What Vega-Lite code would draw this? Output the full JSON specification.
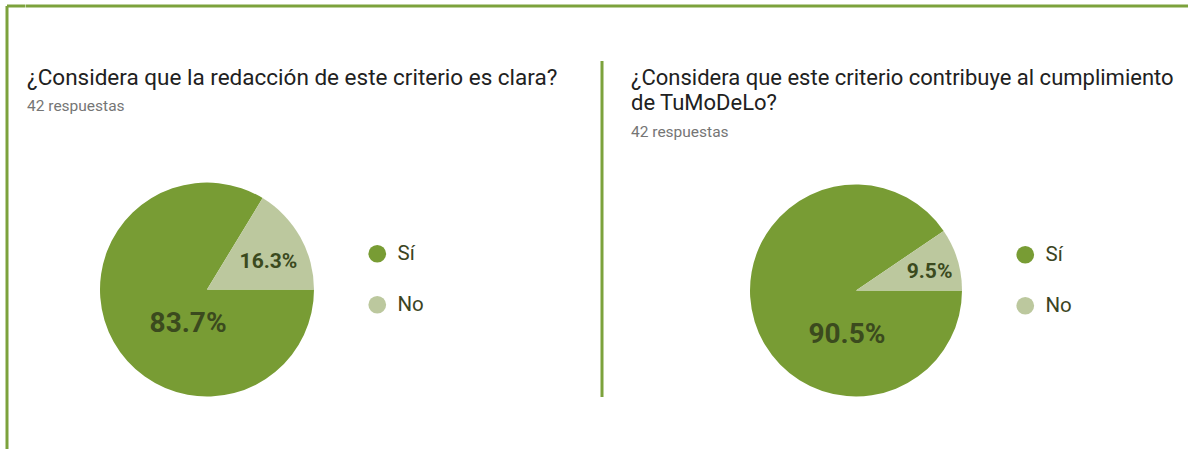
{
  "$schema": "https://vega.github.io/schema/vega-lite/v6.json",
  "padding": {"left": 5, "top": 4, "right": 0, "bottom": 0},
  "background": "white",
  "config": {
    "view": {"stroke": null},
    "font": "Roboto",
    "concat": {"spacing": 0},
    "title": {"font": "Roboto", "subtitleFont": "Roboto"}
  },
  "datasets": {
    "p1": [
      {"respuesta": "Sí", "pct": 0.837, "orden": 1},
      {"respuesta": "No", "pct": 0.163, "orden": 2}
    ],
    "p2": [
      {"respuesta": "Sí", "pct": 0.905, "orden": 1},
      {"respuesta": "No", "pct": 0.095, "orden": 2}
    ]
  },
  "resolve": {"scale": {"color": "independent", "theta": "independent", "radius": "independent"}},
  "spacing": -3,
  "hconcat": [
    {
      "width": 18,
      "height": 444,
      "view": {"stroke": "#7ca23c", "strokeWidth": 3, "strokeDash": [18, 462, 444, 0]},
      "data": {"values": []},
      "mark": "rule",
      "encoding": {}
    },
    {
      "spacing": 52.5,
      "resolve": {"scale": {"color": "independent", "theta": "independent", "radius": "independent"}},
      "vconcat": [
        {
          "width": 1162,
          "height": 0.01,
          "view": {"stroke": "#7ca23c", "strokeWidth": 3},
          "data": {"values": []},
          "mark": "rule",
          "encoding": {}
        },
        {
          "spacing": 42,
          "resolve": {"scale": {"color": "independent", "theta": "independent", "radius": "independent"}},
          "hconcat": [
            {
              "spacing": 3,
              "resolve": {"scale": {"color": "independent", "theta": "independent", "radius": "independent"}},
              "vconcat": [
                {
                  "width": 0.01,
                  "height": 0.01,
                  "data": {"values": []},
                  "mark": "rule",
                  "encoding": {}
                },
                {
                  "title": {
                    "text": "¿Considera que la redacción de este criterio es clara?",
                    "subtitle": "42 respuestas",
                    "anchor": "start",
                    "frame": "group",
                    "offset": 68,
                    "fontSize": 22.5,
                    "fontWeight": "normal",
                    "color": "#212121",
                    "subtitleFontSize": 15.5,
                    "subtitleColor": "#757575",
                    "subtitlePadding": 10,
                    "lineHeight": 25
                  },
                  "width": 360,
                  "height": 214,
                  "data": {"name": "p1"},
                  "encoding": {
                    "theta": {"field": "pct", "type": "quantitative", "stack": true, "scale": {"domain": [0, 1], "range": [1.5708, 7.854]}},
                    "order": {"field": "orden", "type": "quantitative"}
                  },
                  "layer": [
                    {
                      "mark": {"type": "arc", "outerRadius": 107},
                      "encoding": {
                        "color": {
                          "field": "respuesta",
                          "type": "nominal",
                          "scale": {"domain": ["Sí", "No"], "range": ["#789c34", "#bcc89e"]},
                          "legend": {
                            "orient": "none", "legendX": 340, "legendY": 61, "title": null,
                            "symbolType": "circle", "symbolSize": 314, "symbolStrokeWidth": 0, "symbolOpacity": 1,
                            "labelFontSize": 20.5, "labelColor": "#3b4422", "labelFont": "Roboto",
                            "rowPadding": 30, "labelOffset": 10
                          }
                        }
                      }
                    },
                    {
                      "mark": {"type": "text", "fontWeight": "bold", "color": "#3b4a1e", "align": "center", "baseline": "middle"},
                      "encoding": {
                        "theta": {"field": "pct", "type": "quantitative", "stack": true, "scale": {"domain": [0, 1], "range": [0.4608, 8.0530]}},
                        "radius": {"field": "pct", "type": "quantitative", "scale": {"type": "linear", "zero": false, "domain": [0, 1], "range": [74, 33]}},
                        "detail": {"field": "respuesta"},
                        "text": {"field": "pct", "type": "quantitative", "format": ".1%"},
                        "size": {"condition": {"test": "datum.respuesta === 'Sí'", "value": 28}, "value": 21}
                      }
                    }
                  ],
                  "resolve": {"scale": {"theta": "independent"}}
                }
              ]
            },
            {
              "spacing": 27,
              "resolve": {"scale": {"color": "independent", "theta": "independent", "radius": "independent"}},
              "hconcat": [
                {
                  "width": 0.01,
                  "height": 333,
                  "view": {"stroke": "#7ca23c", "strokeWidth": 3},
                  "data": {"values": []},
                  "mark": "rule",
                  "encoding": {}
                },
                {
                  "spacing": 3,
                  "resolve": {"scale": {"color": "independent", "theta": "independent", "radius": "independent"}},
                  "vconcat": [
                    {
                      "width": 0.01,
                      "height": 0.01,
                      "data": {"values": []},
                      "mark": "rule",
                      "encoding": {}
                    },
                    {
                      "title": {
                        "text": ["¿Considera que este criterio contribuye al cumplimiento", "de TuMoDeLo?"],
                        "subtitle": "42 respuestas",
                        "anchor": "start",
                        "frame": "group",
                        "offset": 42,
                        "fontSize": 22,
                        "fontWeight": "normal",
                        "color": "#212121",
                        "subtitleFontSize": 15.5,
                        "subtitleColor": "#757575",
                        "subtitlePadding": 10,
                        "lineHeight": 25
                      },
                      "width": 450,
                      "height": 214,
                      "data": {"name": "p2"},
                      "encoding": {
                        "theta": {"field": "pct", "type": "quantitative", "stack": true, "scale": {"domain": [0, 1], "range": [1.5708, 7.854]}},
                        "order": {"field": "orden", "type": "quantitative"}
                      },
                      "layer": [
                        {
                          "mark": {"type": "arc", "outerRadius": 106},
                          "encoding": {
                            "color": {
                              "field": "respuesta",
                              "type": "nominal",
                              "scale": {"domain": ["Sí", "No"], "range": ["#789c34", "#bcc89e"]},
                              "legend": {
                                "orient": "none", "legendX": 384, "legendY": 61, "title": null,
                                "symbolType": "circle", "symbolSize": 314, "symbolStrokeWidth": 0, "symbolOpacity": 1,
                                "labelFontSize": 20.5, "labelColor": "#3b4422", "labelFont": "Roboto",
                                "rowPadding": 30, "labelOffset": 10
                              }
                            }
                          }
                        },
                        {
                          "mark": {"type": "text", "fontWeight": "bold", "color": "#3b4a1e", "align": "center", "baseline": "middle"},
                          "encoding": {
                            "theta": {"field": "pct", "type": "quantitative", "stack": true, "scale": {"domain": [0, 1], "range": [-0.5096, 8.0076]}},
                            "radius": {"field": "pct", "type": "quantitative", "scale": {"type": "linear", "zero": false, "domain": [0, 1], "range": [79.6, 41.3]}},
                            "detail": {"field": "respuesta"},
                            "text": {"field": "pct", "type": "quantitative", "format": ".1%"},
                            "size": {"condition": {"test": "datum.respuesta === 'Sí'", "value": 28}, "value": 21}
                          }
                        }
                      ],
                      "resolve": {"scale": {"theta": "independent"}}
                    }
                  ]
                }
              ]
            }
          ]
        }
      ]
    }
  ]
}
